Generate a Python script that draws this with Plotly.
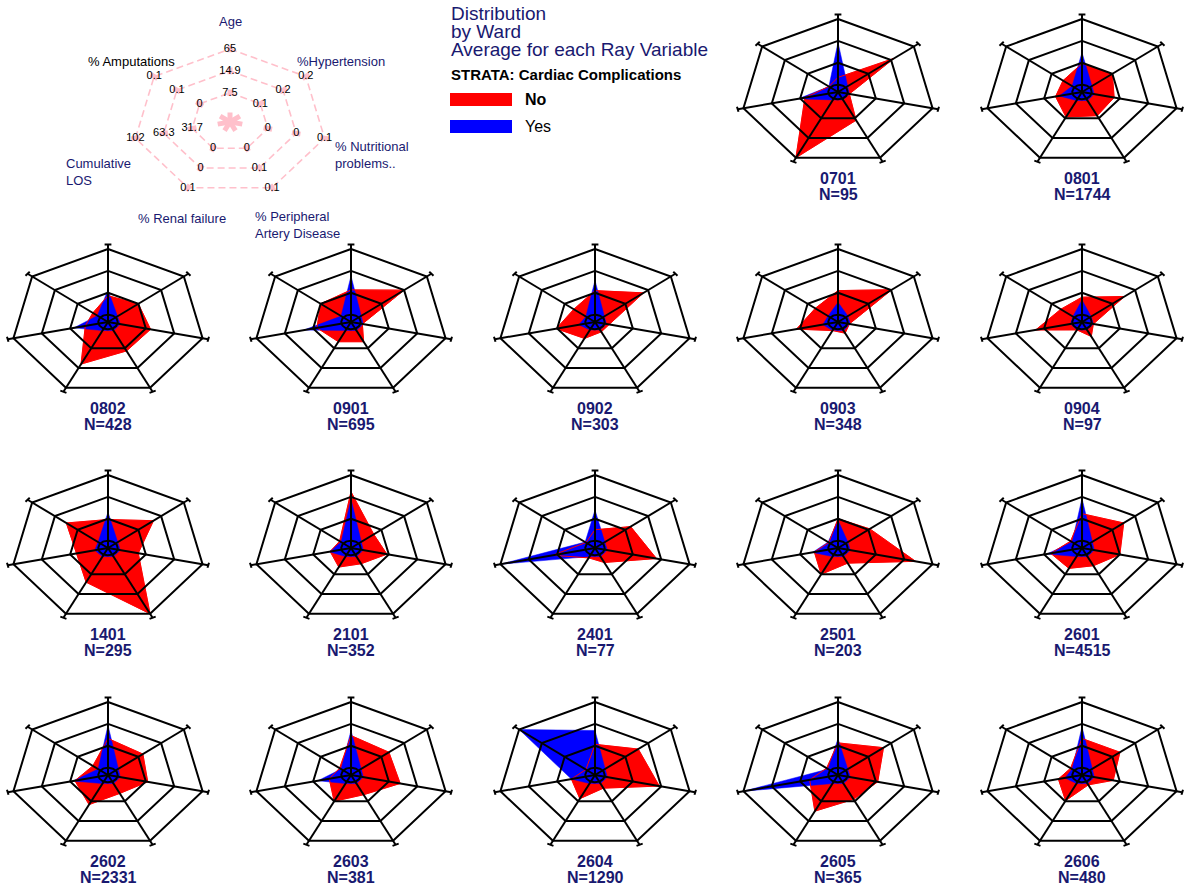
import numpy as np
import plotly.graph_objects as go

W, H = 1185, 888
FONT = "Liberation Sans, Arial, sans-serif"
NAVY = "#191970"
RED = "#ff0000"
BLUE = "#0000ff"
PINK = "#ffc0cb"

# Ray variables, clockwise from the top
rays = ["Age", "%Hypertension", "% Nutritional problems..", "% Peripheral Artery Disease",
        "% Renal failure", "Cumulative LOS", "% Amputations"]

# Scale printed on the key chart (outer, middle, inner ring) for each ray
key_outer = ["65", "0.2", "0.1", "0.1", "0.1", "102", "0.1"]
key_middle = ["14.9", "0.2", "0", "0.1", "0", "63.3", "0.1"]
key_inner = ["7.5", "0.1", "0", "0", "0", "31.7", "0"]
ring_levels = [1.0, 0.7, 0.4]
hub_radius = 0.1

wards = ["0701", "0801", "0802", "0901", "0902", "0903", "0904", "1401", "2101",
         "2401", "2501", "2601", "2602", "2603", "2604", "2605", "2606"]
ward_n = [95, 1744, 428, 695, 303, 348, 97, 295, 352, 77, 203, 4515, 2331, 381, 1290, 365, 480]

# Scaled averages per ray (Age, Hyp, Nutr, PAD, Renal, LOS, Amp)
no_values = {
    "0701": [0.20, 0.74, 0.12, 0.43, 1.00, 0.35, 0.12],
    "0801": [0.39, 0.40, 0.34, 0.36, 0.38, 0.28, 0.25],
    "0802": [0.36, 0.40, 0.45, 0.44, 0.64, 0.24, 0.20],
    "0901": [0.44, 0.70, 0.12, 0.30, 0.30, 0.36, 0.40],
    "0902": [0.43, 0.64, 0.15, 0.15, 0.25, 0.41, 0.28],
    "0903": [0.43, 0.71, 0.12, 0.17, 0.13, 0.44, 0.30],
    "0904": [0.34, 0.56, 0.12, 0.22, 0.12, 0.49, 0.28],
    "1401": [0.39, 0.60, 0.32, 1.00, 0.52, 0.33, 0.55],
    "2101": [0.77, 0.30, 0.38, 0.24, 0.29, 0.22, 0.15],
    "2401": [0.25, 0.47, 0.65, 0.22, 0.15, 0.45, 0.12],
    "2501": [0.40, 0.42, 0.82, 0.23, 0.40, 0.25, 0.12],
    "2601": [0.47, 0.55, 0.40, 0.27, 0.31, 0.33, 0.15],
    "2602": [0.50, 0.46, 0.42, 0.28, 0.45, 0.35, 0.20],
    "2603": [0.54, 0.50, 0.52, 0.30, 0.40, 0.23, 0.15],
    "2604": [0.42, 0.57, 0.68, 0.20, 0.36, 0.25, 0.12],
    "2605": [0.44, 0.60, 0.42, 0.37, 0.55, 0.30, 0.15],
    "2606": [0.50, 0.50, 0.33, 0.15, 0.39, 0.25, 0.15],
}
yes_values = {
    "0701": [0.68, 0.12, 0.12, 0.12, 0.12, 0.42, 0.12],
    "0801": [0.54, 0.13, 0.13, 0.13, 0.13, 0.24, 0.13],
    "0802": [0.44, 0.13, 0.13, 0.13, 0.13, 0.36, 0.14],
    "0901": [0.63, 0.13, 0.13, 0.13, 0.13, 0.50, 0.13],
    "0902": [0.57, 0.12, 0.12, 0.12, 0.12, 0.17, 0.12],
    "0903": [0.27, 0.13, 0.13, 0.13, 0.13, 0.16, 0.13],
    "0904": [0.30, 0.12, 0.12, 0.12, 0.12, 0.12, 0.12],
    "1401": [0.49, 0.13, 0.13, 0.13, 0.13, 0.14, 0.13],
    "2101": [0.67, 0.13, 0.13, 0.13, 0.13, 0.23, 0.13],
    "2401": [0.52, 0.13, 0.13, 0.13, 0.13, 1.00, 0.13],
    "2501": [0.38, 0.13, 0.13, 0.13, 0.13, 0.27, 0.13],
    "2601": [0.68, 0.13, 0.13, 0.13, 0.13, 0.37, 0.13],
    "2602": [0.68, 0.13, 0.13, 0.13, 0.13, 0.37, 0.13],
    "2603": [0.61, 0.13, 0.13, 0.13, 0.13, 0.35, 0.13],
    "2604": [0.61, 0.13, 0.13, 0.13, 0.13, 0.25, 1.00],
    "2605": [0.50, 0.13, 0.13, 0.13, 0.13, 1.00, 0.13],
    "2606": [0.66, 0.13, 0.13, 0.13, 0.13, 0.18, 0.13],
}

# Panel placement (pixel centres) and ray radius in pixels
RX, RY = 97, 73
col_x = [108, 351, 595, 838, 1082]
row_y = [92, 322, 548, 775]
panel_centres = [(col_x[3], row_y[0]), (col_x[4], row_y[0])]
for ry in row_y[1:]:
    panel_centres += [(cx, ry) for cx in col_x]
KEY_CENTRE = (230, 122)

n_rays = len(rays)
theta = np.pi / 2 - np.arange(n_rays) * 2 * np.pi / n_rays
cos_t, sin_t = np.cos(theta), np.sin(theta)


def polygon(values):
    r = np.asarray(values, dtype=float)
    x = r * cos_t
    y = r * sin_t
    return np.append(x, x[0]), np.append(y, y[0])


def web_lines():
    """Rings, spokes and the little end ticks of the spider web."""
    xs, ys = [], []
    for lev in ring_levels:
        px_, py_ = polygon([lev] * n_rays)
        xs += list(px_) + [None]
        ys += list(py_) + [None]
    spoke_end, tick = 1.06, 0.035
    for k in range(n_rays):
        xs += [0, spoke_end * cos_t[k], None]
        ys += [0, spoke_end * sin_t[k], None]
        ex, ey = spoke_end * cos_t[k], spoke_end * sin_t[k]
        xs += [ex - tick * sin_t[k], ex + tick * sin_t[k], None]
        ys += [ey + tick * cos_t[k], ey - tick * cos_t[k], None]
    return xs, ys


def hub_circle():
    a = np.linspace(0, 2 * np.pi, 73)
    return hub_radius * np.cos(a), hub_radius * np.sin(a)


fig = go.Figure()
layout = dict(
    width=W, height=H, margin=dict(l=0, r=0, t=0, b=0),
    paper_bgcolor="white", plot_bgcolor="rgba(0,0,0,0)",
    showlegend=False, font=dict(family=FONT),
)
annotations = []


def add_axes(idx, centre, half_x, half_y):
    """Axis pair centred on a pixel position, RX/RY pixels per unit radius."""
    cx, cy = centre
    sx = "" if idx == 1 else str(idx)
    x0, x1 = max(cx - half_x * RX, 0), min(cx + half_x * RX, W)
    top, bot = max(cy - half_y * RY, 0), min(cy + half_y * RY, H)
    layout["xaxis" + sx] = dict(
        domain=[x0 / W, x1 / W],
        range=[(x0 - cx) / RX, (x1 - cx) / RX], visible=False, fixedrange=True,
        anchor="y" + sx)
    layout["yaxis" + sx] = dict(
        domain=[1 - bot / H, 1 - top / H],
        range=[(cy - bot) / RY, (cy - top) / RY], visible=False, fixedrange=True,
        anchor="x" + sx)
    return "x" + sx, "y" + sx


# ---- key chart ----
kx, ky = add_axes(1, KEY_CENTRE, 2.3, 1.65)
for lev in ring_levels:
    px_, py_ = polygon([lev] * n_rays)
    fig.add_trace(go.Scatter(x=px_, y=py_, mode="lines", xaxis=kx, yaxis=ky,
                             line=dict(color=PINK, width=1.6, dash="7px,4px"),
                             hoverinfo="skip"))
mx, my = [], []
for k in range(n_rays):
    mx += [0, 0.13 * cos_t[k], None]
    my += [0, 0.13 * sin_t[k], None]
    for lev in ring_levels:
        mx += [(lev - 0.045) * cos_t[k], (lev + 0.045) * cos_t[k], None]
        my += [(lev - 0.045) * sin_t[k], (lev + 0.045) * sin_t[k], None]
fig.add_trace(go.Scatter(x=mx, y=my, mode="lines", xaxis=kx, yaxis=ky,
                         line=dict(color=PINK, width=5), hoverinfo="skip"))
for lev, labels in zip(ring_levels, [key_outer, key_middle, key_inner]):
    fig.add_trace(go.Scatter(
        x=lev * cos_t, y=lev * sin_t, mode="text", text=labels,
        textposition="middle center", xaxis=kx, yaxis=ky,
        textfont=dict(family=FONT, size=11, color="black"), hoverinfo="skip"))

# ray names around the key
ray_label_pos = [
    (0.0, 1.375, "center", "Age", NAVY),
    (1.146, 0.833, "center", "%Hypertension", NAVY),
    (1.063, -0.458, "left", "% Nutritional<br>problems..", NAVY),
    (0.24, -1.41, "left", "% Peripheral<br>Artery Disease", NAVY),
    (-0.5, -1.32, "center", "% Renal failure", NAVY),
    (-1.708, -0.69, "left", "Cumulative<br>LOS", NAVY),
    (-1.02, 0.833, "center", "% Amputations", "black"),
]
for x, y, anchor, txt, col in ray_label_pos:
    annotations.append(dict(x=x, y=y, xref=kx, yref=ky, text=txt, showarrow=False,
                            xanchor=anchor, yanchor="middle", align="left",
                            font=dict(family=FONT, size=13, color=col)))

# ---- one radar per ward ----
web_x, web_y = web_lines()
hub_x, hub_y = hub_circle()
for i, (ward, n, centre) in enumerate(zip(wards, ward_n, panel_centres)):
    ax, ay = add_axes(i + 2, centre, 1.15, 1.15)
    rx_, ry_ = polygon(no_values[ward])
    bx_, by_ = polygon(yes_values[ward])
    fig.add_trace(go.Scatter(x=rx_, y=ry_, mode="lines", fill="toself", fillcolor=RED,
                             line=dict(color=RED, width=0.5), xaxis=ax, yaxis=ay,
                             hoverinfo="skip"))
    fig.add_trace(go.Scatter(x=bx_, y=by_, mode="lines", fill="toself", fillcolor=BLUE,
                             line=dict(color=BLUE, width=0.5), xaxis=ax, yaxis=ay,
                             hoverinfo="skip"))
    fig.add_trace(go.Scatter(x=rx_, y=ry_, mode="lines", line=dict(color=RED, width=1),
                             xaxis=ax, yaxis=ay, hoverinfo="skip"))
    fig.add_trace(go.Scatter(x=web_x, y=web_y, mode="lines",
                             line=dict(color="black", width=2), xaxis=ax, yaxis=ay,
                             hoverinfo="skip"))
    fig.add_trace(go.Scatter(x=hub_x, y=hub_y, mode="lines",
                             line=dict(color="black", width=2), xaxis=ax, yaxis=ay,
                             hoverinfo="skip"))
    cx, cy = centre
    for dy, txt in [(86, ward), (102, f"N={n}")]:
        annotations.append(dict(x=cx / W, y=1 - (cy + dy) / H, xref="paper", yref="paper",
                                text=f"<b>{txt}</b>", showarrow=False,
                                xanchor="center", yanchor="middle",
                                font=dict(family=FONT, size=16, color=NAVY)))

# ---- title and strata legend ----
for y, txt in [(14, "Distribution"), (32, "by Ward"), (50, "Average for each Ray Variable")]:
    annotations.append(dict(x=449 / W, y=1 - y / H, xref="paper", yref="paper", text=txt,
                            showarrow=False, xanchor="left", yanchor="middle",
                            font=dict(family=FONT, size=19, color=NAVY)))
annotations.append(dict(x=449 / W, y=1 - 75 / H, xref="paper", yref="paper",
                        text="<b>STRATA: Cardiac Complications</b>", showarrow=False,
                        xanchor="left", yanchor="middle",
                        font=dict(family=FONT, size=15, color="black")))
strata = [("No", RED, 99, True), ("Yes", BLUE, 126, False)]
shapes = []
for name, col, y, bold in strata:
    shapes.append(dict(type="rect", xref="paper", yref="paper",
                       x0=450 / W, x1=512 / W, y0=1 - (y + 7) / H, y1=1 - (y - 6) / H,
                       fillcolor=col, line=dict(width=0)))
    annotations.append(dict(x=523 / W, y=1 - y / H, xref="paper", yref="paper",
                            text=f"<b>{name}</b>" if bold else name, showarrow=False,
                            xanchor="left", yanchor="middle",
                            font=dict(family=FONT, size=16, color="black")))

layout["annotations"] = annotations
layout["shapes"] = shapes
fig.update_layout(**layout)
fig.write_html("out.html")
